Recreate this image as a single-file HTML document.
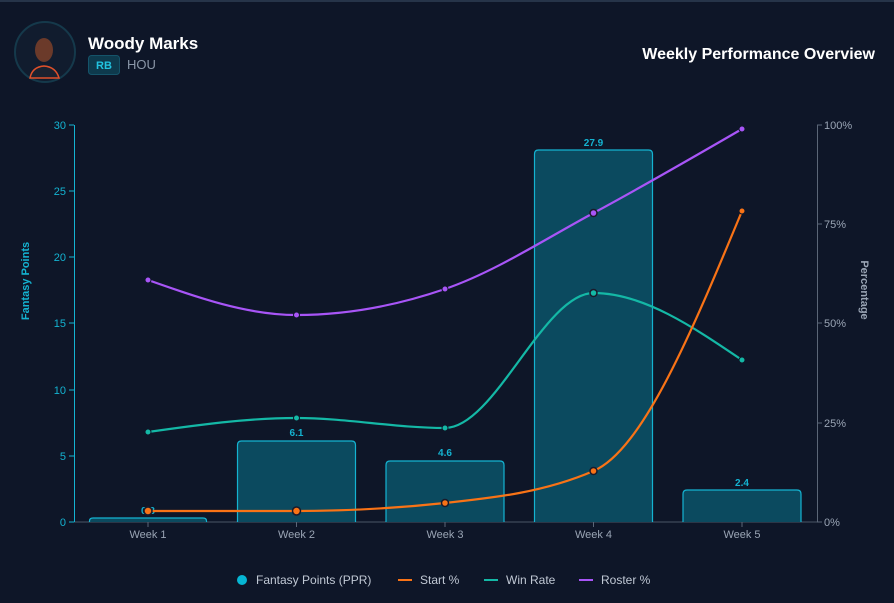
<!DOCTYPE html>
<html><head><meta charset="utf-8"><style>
html,body{margin:0;padding:0;background:#0e1628;}
body{width:894px;height:598px;overflow:hidden;font-family:"Liberation Sans",sans-serif;}
</style></head><body>
<svg width="894" height="598" viewBox="0 0 894 598" xmlns="http://www.w3.org/2000/svg" font-family="Liberation Sans, sans-serif">
<rect width="894" height="598" fill="#0e1628"/>
<rect width="894" height="2" fill="#263449"/>
<!-- header -->
<circle cx="45" cy="52" r="30" fill="#111c2e" stroke="#15394b" stroke-width="2"/>
<ellipse cx="44" cy="50" rx="9" ry="12" fill="#6b3a2a"/>
<path d="M30 78 Q32 67 44 66 Q56 67 59 78 Z" fill="#1b2230" stroke="#e0502a" stroke-width="1.5"/>
<text x="88" y="49" font-size="17" font-weight="bold" fill="#ffffff">Woody Marks</text>
<rect x="88.5" y="55.5" width="31" height="19" rx="3" fill="#0e3a4d" stroke="#15546a"/>
<text x="104" y="69" font-size="11" font-weight="bold" fill="#22c3e0" text-anchor="middle">RB</text>
<text x="127" y="69" font-size="13" fill="#8b97a8">HOU</text>
<text x="875" y="59" font-size="16" font-weight="bold" fill="#ffffff" text-anchor="end">Weekly Performance Overview</text>
<!-- axes -->
<line x1="74" y1="522" x2="817" y2="522" stroke="#4b5566" stroke-width="1"/>
<line x1="74.5" y1="125" x2="74.5" y2="522" stroke="#14b3d1" stroke-width="1"/>
<line x1="817.5" y1="125" x2="817.5" y2="522" stroke="#5b6677" stroke-width="1"/>
<g font-size="11" fill="#14b3d1" text-anchor="end">
<line x1="69" x2="74" y1="522" y2="522" stroke="#14b3d1"/><text x="66" y="526">0</text>
<line x1="69" x2="74" y1="456" y2="456" stroke="#14b3d1"/><text x="66" y="460">5</text>
<line x1="69" x2="74" y1="390" y2="390" stroke="#14b3d1"/><text x="66" y="394">10</text>
<line x1="69" x2="74" y1="323" y2="323" stroke="#14b3d1"/><text x="66" y="327">15</text>
<line x1="69" x2="74" y1="257" y2="257" stroke="#14b3d1"/><text x="66" y="261">20</text>
<line x1="69" x2="74" y1="191" y2="191" stroke="#14b3d1"/><text x="66" y="195">25</text>
<line x1="69" x2="74" y1="125" y2="125" stroke="#14b3d1"/><text x="66" y="129">30</text>
</g>
<g font-size="11" fill="#9aa5b5">
<line x1="817" x2="822" y1="522" y2="522" stroke="#5b6677"/><text x="824" y="526">0%</text>
<line x1="817" x2="822" y1="423" y2="423" stroke="#5b6677"/><text x="824" y="427">25%</text>
<line x1="817" x2="822" y1="323" y2="323" stroke="#5b6677"/><text x="824" y="327">50%</text>
<line x1="817" x2="822" y1="224" y2="224" stroke="#5b6677"/><text x="824" y="228">75%</text>
<line x1="817" x2="822" y1="125" y2="125" stroke="#5b6677"/><text x="824" y="129">100%</text>
</g>
<g font-size="11" fill="#9aa5b5" text-anchor="middle" stroke="#5b6677">
<line x1="148" x2="148" y1="522" y2="527"/><line x1="296.5" x2="296.5" y1="522" y2="527"/><line x1="445" x2="445" y1="522" y2="527"/><line x1="593.5" x2="593.5" y1="522" y2="527"/><line x1="742" x2="742" y1="522" y2="527"/>
</g>
<g font-size="11" fill="#9aa5b5" text-anchor="middle">
<text x="148" y="538">Week 1</text><text x="296.5" y="538">Week 2</text><text x="445" y="538">Week 3</text><text x="593.5" y="538">Week 4</text><text x="742" y="538">Week 5</text>
</g>
<text transform="translate(29,281) rotate(-90)" font-size="11" font-weight="bold" fill="#14b3d1" text-anchor="middle">Fantasy Points</text>
<text transform="translate(861,290) rotate(90)" font-size="11" font-weight="bold" fill="#9aa5b5" text-anchor="middle">Percentage</text>
<!-- bars -->
<g fill="#0b4a5f" stroke="#14b3d1" stroke-width="1.2">
<path d="M89.5 522 V521 Q89.5 518 93 518 H203 Q206.5 518 206.5 521 V522"/>
<path d="M237.5 522 V445 Q237.5 441 241.5 441 H351.5 Q355.5 441 355.5 445 V522"/>
<path d="M386 522 V465 Q386 461 390 461 H500 Q504 461 504 465 V522"/>
<path d="M534.5 522 V154 Q534.5 150 538.5 150 H648.5 Q652.5 150 652.5 154 V522"/>
<path d="M683 522 V494 Q683 490 687 490 H797 Q801 490 801 494 V522"/>
</g>
<g font-size="10" font-weight="bold" fill="#14b3d1" text-anchor="middle">
<text x="148" y="514">0.3</text><text x="296.5" y="436">6.1</text><text x="445" y="456">4.6</text><text x="593.5" y="146">27.9</text><text x="742" y="486">2.4</text>
</g>
<!-- lines -->
<path d="M148 280 C197.5 297.5 247 315 296.5 315 C346 315 395.5 306 445 289 C494.5 272 544 239.7 593.5 213 C643 186.3 692.5 157.7 742 129" fill="none" stroke="#a855f7" stroke-width="2.2"/>
<path d="M148 432 C197.5 425 247 418 296.5 418 C346 418 395.5 428 445 428 C494.5 428 544 293 593.5 293 C643 293 692.5 326.5 742 360" fill="none" stroke="#14b8a6" stroke-width="2.2"/>
<path d="M148 511 C197.5 511 247 511 296.5 511 C346 511 395.5 508.3 445 503 C494.5 497.7 544 492.3 593.5 471 C643 449.7 692.5 330.3 742 211" fill="none" stroke="#f97316" stroke-width="2.2"/>
<g fill="#a855f7" stroke="#0e1628" stroke-width="1"><circle cx="148" cy="280" r="3"/><circle cx="296.5" cy="315" r="3"/><circle cx="445" cy="289" r="3"/><circle cx="742" cy="129" r="3"/></g>
<circle cx="593.5" cy="213" r="3.5" fill="#a855f7" stroke="#1a1a2a" stroke-width="1.5"/>
<g fill="#14b8a6" stroke="#0e1628" stroke-width="1"><circle cx="148" cy="432" r="3"/><circle cx="296.5" cy="418" r="3"/><circle cx="445" cy="428" r="3"/><circle cx="742" cy="360" r="3"/></g>
<circle cx="593.5" cy="293" r="3.5" fill="#14b8a6" stroke="#1a1a2a" stroke-width="1.5"/>
<g fill="#f97316" stroke="#1a1a2a" stroke-width="1.5"><circle cx="148" cy="511" r="4"/><circle cx="296.5" cy="511" r="4"/><circle cx="445" cy="503" r="3.5"/><circle cx="593.5" cy="471" r="3.5"/></g>
<circle cx="742" cy="211" r="3" fill="#f97316" stroke="#0e1628"/>
<!-- legend -->
<circle cx="242" cy="580" r="5" fill="#06b6d4"/>
<text x="256" y="584" font-size="12" fill="#c0c8d4">Fantasy Points (PPR)</text>
<line x1="398" y1="580" x2="412" y2="580" stroke="#f97316" stroke-width="2"/>
<text x="420" y="584" font-size="12" fill="#c0c8d4">Start %</text>
<line x1="484" y1="580" x2="498" y2="580" stroke="#14b8a6" stroke-width="2"/>
<text x="506" y="584" font-size="12" fill="#c0c8d4">Win Rate</text>
<line x1="579" y1="580" x2="593" y2="580" stroke="#a855f7" stroke-width="2"/>
<text x="601" y="584" font-size="12" fill="#c0c8d4">Roster %</text>
</svg>
</body></html>
